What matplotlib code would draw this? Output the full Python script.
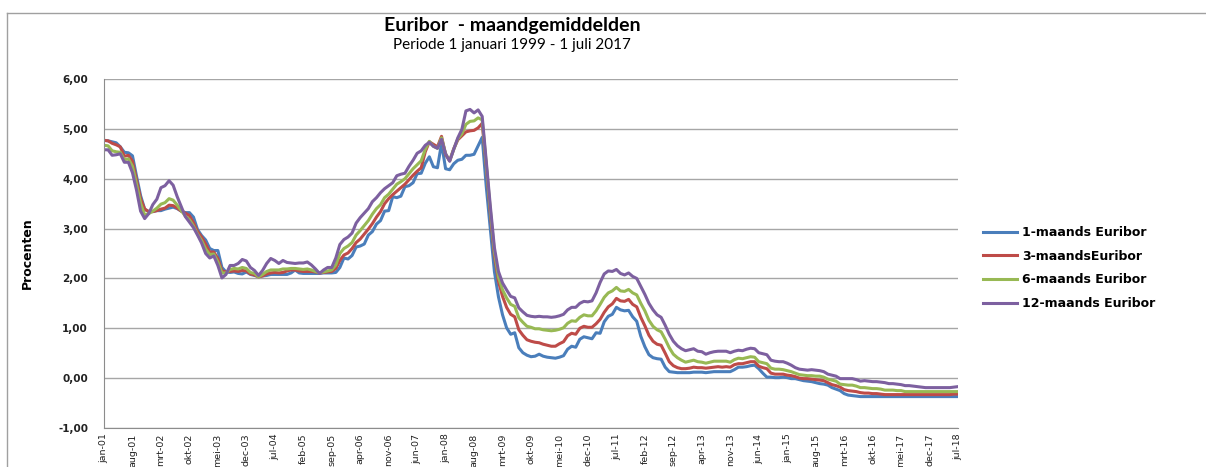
import matplotlib

matplotlib.use("Agg")
import matplotlib.pyplot as plt  # noqa: E402
from matplotlib.lines import Line2D  # noqa: E402

# Maandgemiddelden jan-2001 t/m jul-2018
euribor_1m = [
    4.77, 4.76, 4.74, 4.72, 4.64, 4.53, 4.52, 4.46, 4.05, 3.66, 3.39, 3.34,
    3.34, 3.36, 3.36, 3.39, 3.41, 3.43, 3.40, 3.35, 3.32, 3.32, 3.23, 2.98,
    2.86, 2.77, 2.60, 2.56, 2.56, 2.22, 2.13, 2.12, 2.13, 2.10, 2.09, 2.13,
    2.08, 2.06, 2.04, 2.05, 2.06, 2.08, 2.08, 2.08, 2.08, 2.08, 2.11, 2.17,
    2.11, 2.10, 2.10, 2.10, 2.10, 2.10, 2.11, 2.11, 2.11, 2.12, 2.22, 2.41,
    2.39, 2.46, 2.63, 2.65, 2.69, 2.87, 2.94, 3.09, 3.16, 3.35, 3.36, 3.64,
    3.62, 3.65, 3.84, 3.86, 3.92, 4.10, 4.11, 4.31, 4.44, 4.24, 4.22, 4.71,
    4.20, 4.18, 4.30, 4.37, 4.39, 4.47, 4.47, 4.49, 4.66, 4.83, 3.84, 2.99,
    2.14, 1.63, 1.27, 1.01, 0.88, 0.91, 0.61, 0.51, 0.46, 0.43, 0.44, 0.48,
    0.44, 0.42, 0.41, 0.40, 0.42, 0.45, 0.58, 0.64, 0.62, 0.78, 0.83, 0.81,
    0.79, 0.91, 0.90, 1.13, 1.24, 1.28, 1.42, 1.37, 1.35, 1.36, 1.23, 1.14,
    0.84, 0.63, 0.47, 0.41, 0.39, 0.38, 0.22, 0.13, 0.12, 0.11, 0.11, 0.11,
    0.11, 0.12, 0.12, 0.12, 0.11, 0.12, 0.13, 0.13, 0.13, 0.13, 0.13, 0.17,
    0.22, 0.22, 0.23, 0.25, 0.26, 0.19, 0.10, 0.02, 0.02, 0.01, 0.01, 0.02,
    0.01, -0.01, -0.01, -0.03, -0.05, -0.06, -0.07, -0.09, -0.11, -0.12, -0.14, -0.19,
    -0.22, -0.25, -0.31, -0.34, -0.35, -0.36, -0.37, -0.37, -0.37, -0.37, -0.37, -0.37,
    -0.37, -0.37, -0.37, -0.37, -0.37, -0.37, -0.37, -0.37, -0.37, -0.37, -0.37, -0.37,
    -0.37, -0.37, -0.37, -0.37, -0.37, -0.37, -0.37,
]
euribor_3m = [
    4.77, 4.76, 4.71, 4.68, 4.64, 4.45, 4.47, 4.35, 3.98, 3.60, 3.39, 3.34,
    3.34, 3.36, 3.39, 3.41, 3.47, 3.46, 3.41, 3.35, 3.31, 3.26, 3.12, 2.94,
    2.83, 2.69, 2.53, 2.53, 2.40, 2.15, 2.13, 2.14, 2.15, 2.14, 2.16, 2.15,
    2.09, 2.07, 2.03, 2.05, 2.09, 2.11, 2.12, 2.11, 2.12, 2.15, 2.17, 2.17,
    2.15, 2.14, 2.14, 2.14, 2.13, 2.11, 2.12, 2.13, 2.14, 2.20, 2.36, 2.47,
    2.51, 2.60, 2.72, 2.79, 2.89, 2.99, 3.10, 3.23, 3.34, 3.50, 3.60, 3.68,
    3.75, 3.82, 3.89, 3.98, 4.07, 4.15, 4.22, 4.54, 4.74, 4.69, 4.64, 4.85,
    4.48, 4.36, 4.60, 4.78, 4.86, 4.94, 4.96, 4.97, 5.02, 5.11, 4.24, 3.29,
    2.46, 1.94, 1.64, 1.42, 1.28, 1.23, 0.97, 0.86, 0.77, 0.74, 0.72, 0.71,
    0.68, 0.66, 0.64, 0.64, 0.69, 0.73, 0.85, 0.90, 0.88, 1.00, 1.04, 1.02,
    1.02, 1.09, 1.18, 1.32, 1.43, 1.49, 1.60, 1.55, 1.54, 1.58, 1.48, 1.43,
    1.22, 1.05, 0.86, 0.74, 0.68, 0.66, 0.50, 0.33, 0.25, 0.21, 0.19, 0.19,
    0.20, 0.22, 0.21, 0.21, 0.20, 0.21, 0.22, 0.23, 0.22, 0.23, 0.22, 0.27,
    0.29, 0.29, 0.31, 0.33, 0.33, 0.24, 0.21, 0.19, 0.10, 0.08, 0.08, 0.08,
    0.06, 0.05, 0.03, 0.00, -0.01, -0.01, -0.02, -0.03, -0.04, -0.05, -0.09, -0.13,
    -0.15, -0.18, -0.23, -0.25, -0.26, -0.27, -0.29, -0.30, -0.30, -0.31, -0.31, -0.32,
    -0.33, -0.33, -0.33, -0.33, -0.33, -0.33, -0.33, -0.33, -0.33, -0.33, -0.33, -0.33,
    -0.33, -0.33, -0.33, -0.33, -0.33, -0.32, -0.32,
]
euribor_6m = [
    4.67, 4.66, 4.56, 4.54, 4.53, 4.38, 4.40, 4.25, 3.89, 3.51, 3.27, 3.30,
    3.35, 3.41, 3.49, 3.52, 3.60, 3.57, 3.47, 3.36, 3.25, 3.18, 3.05, 2.89,
    2.76, 2.59, 2.48, 2.49, 2.33, 2.11, 2.11, 2.18, 2.20, 2.19, 2.22, 2.20,
    2.12, 2.10, 2.03, 2.08, 2.14, 2.17, 2.17, 2.17, 2.19, 2.19, 2.20, 2.20,
    2.19, 2.18, 2.19, 2.17, 2.14, 2.11, 2.13, 2.15, 2.17, 2.27, 2.50, 2.60,
    2.65, 2.72, 2.87, 2.96, 3.06, 3.16, 3.29, 3.40, 3.48, 3.62, 3.69, 3.79,
    3.89, 3.94, 4.00, 4.10, 4.20, 4.28, 4.36, 4.59, 4.75, 4.65, 4.61, 4.82,
    4.50, 4.36, 4.59, 4.80, 4.90, 5.09, 5.15, 5.16, 5.22, 5.18, 4.29, 3.37,
    2.54, 2.03, 1.77, 1.61, 1.48, 1.44, 1.21, 1.12, 1.04, 1.02, 0.99, 0.99,
    0.97, 0.96, 0.95, 0.96, 0.98, 1.01, 1.10, 1.15, 1.14, 1.22, 1.27, 1.25,
    1.25, 1.35, 1.48, 1.62, 1.71, 1.75, 1.82, 1.75, 1.74, 1.78, 1.71, 1.67,
    1.50, 1.35, 1.16, 1.04, 0.97, 0.93, 0.78, 0.61, 0.48, 0.41, 0.36, 0.32,
    0.34, 0.36, 0.33, 0.32, 0.30, 0.32, 0.34, 0.34, 0.34, 0.34, 0.32, 0.37,
    0.40, 0.39, 0.41, 0.43, 0.42, 0.33, 0.31, 0.29, 0.20, 0.18, 0.18, 0.17,
    0.15, 0.13, 0.10, 0.07, 0.06, 0.05, 0.05, 0.04, 0.04, 0.02, -0.02, -0.04,
    -0.06, -0.12, -0.13, -0.14, -0.14, -0.16, -0.19, -0.19, -0.20, -0.21, -0.21, -0.22,
    -0.24, -0.24, -0.24, -0.25, -0.25, -0.27, -0.27, -0.27, -0.27, -0.27, -0.27, -0.27,
    -0.27, -0.27, -0.27, -0.27, -0.27, -0.27, -0.27,
]
euribor_12m = [
    4.58, 4.58, 4.47, 4.48, 4.50, 4.33, 4.33, 4.12, 3.77, 3.35, 3.20, 3.30,
    3.48, 3.59, 3.82, 3.86, 3.96, 3.87, 3.64, 3.44, 3.24, 3.13, 3.02, 2.87,
    2.71, 2.50, 2.41, 2.45, 2.26, 2.01, 2.08, 2.26, 2.26, 2.30, 2.38, 2.35,
    2.22, 2.16, 2.06, 2.16, 2.30, 2.40, 2.36, 2.30, 2.36, 2.32, 2.31, 2.30,
    2.31, 2.31, 2.33, 2.27, 2.19, 2.10, 2.17, 2.22, 2.22, 2.41, 2.68, 2.78,
    2.83, 2.91, 3.11, 3.22, 3.31, 3.40, 3.54, 3.62, 3.72, 3.80, 3.86, 3.92,
    4.06, 4.09, 4.11, 4.25, 4.37, 4.51, 4.56, 4.67, 4.73, 4.65, 4.61, 4.79,
    4.50, 4.35, 4.59, 4.82, 4.99, 5.36, 5.39, 5.32, 5.38, 5.25, 4.35, 3.45,
    2.62, 2.14, 1.91, 1.77, 1.64, 1.61, 1.41, 1.33, 1.26, 1.24, 1.23, 1.24,
    1.23, 1.23, 1.22, 1.23, 1.25, 1.28, 1.37, 1.42, 1.42, 1.50, 1.54, 1.53,
    1.55, 1.71, 1.92, 2.09, 2.15, 2.14, 2.18, 2.10, 2.07, 2.11, 2.04, 2.00,
    1.84, 1.68, 1.50, 1.37, 1.27, 1.22, 1.06, 0.88, 0.74, 0.65, 0.59, 0.55,
    0.57, 0.59, 0.54, 0.53, 0.48, 0.51, 0.53, 0.54, 0.54, 0.54, 0.51, 0.54,
    0.56, 0.55, 0.58, 0.60, 0.59, 0.51, 0.49, 0.47, 0.36, 0.34, 0.33, 0.33,
    0.30, 0.26, 0.21, 0.18, 0.17, 0.16, 0.17, 0.16, 0.15, 0.13, 0.08, 0.06,
    0.04, -0.01, -0.01, -0.01, -0.01, -0.03, -0.06, -0.05, -0.06, -0.07, -0.07, -0.08,
    -0.09, -0.11, -0.11, -0.12, -0.13, -0.15, -0.15, -0.16, -0.17, -0.18, -0.19, -0.19,
    -0.19, -0.19, -0.19, -0.19, -0.19, -0.18, -0.17,
]

month_names = ["jan", "feb", "mrt", "apr", "mei", "jun",
               "jul", "aug", "sep", "okt", "nov", "dec"]
months = [f"{month_names[m]}-{y % 100:02d}"
          for y in range(2001, 2019) for m in range(12)][:len(euribor_1m)]

series = [
    ("1-maands Euribor", euribor_1m, "#4a7ebb"),
    ("3-maandsEuribor", euribor_3m, "#be4b48"),
    ("6-maands Euribor", euribor_6m, "#98b954"),
    ("12-maands Euribor", euribor_12m, "#7d60a0"),
]
yticks = [-1, 0, 1, 2, 3, 4, 5, 6]

narrow = ["Liberation Sans Narrow", "DejaVu Sans"]
heading = ["Lato", "DejaVu Sans"]

fig = plt.figure(figsize=(12.06, 4.67), dpi=100)
ax = fig.add_axes([104 / 1206, 39 / 467, 854 / 1206, 349 / 467])

x = list(range(len(months)))
for name, vals, color in series:
    ax.plot(x, vals, color=color, linewidth=2.2, label=name,
            solid_joinstyle="round")

ax.set_xlim(0, len(months) - 1)
ax.set_ylim(-1, 6)
ax.set_yticks(yticks)
ax.set_yticklabels([f"{v:.2f}".replace(".", ",") for v in yticks],
                   fontsize=7.5, fontweight="bold", color="#222222")
ax.set_xticks(x[::7])
ax.set_xticklabels(months[::7], rotation=90, fontsize=6.8,
                   family=narrow, color="#222222")
ax.tick_params(axis="y", length=0, pad=11.5)
ax.tick_params(axis="x", length=0, pad=4)

ax.grid(axis="y", color="#a6a6a6", linewidth=1)
ax.set_axisbelow(True)
for side in ("top", "right"):
    ax.spines[side].set_visible(False)
ax.spines["left"].set_color("#8c8c8c")
ax.spines["bottom"].set_color("#8c8c8c")

ax.set_ylabel("Procenten", family=narrow, fontsize=9, fontweight="bold")
ax.yaxis.set_label_coords(-(104 - 34) / 854, 0.5)

fig.text(512 / 1206, 1 - 26 / 467, "Euribor  - maandgemiddelden",
         ha="center", va="center", fontsize=14, fontweight="bold",
         family=heading)
fig.text(512 / 1206, 1 - 45 / 467, "Periode 1 januari 1999 - 1 juli 2017",
         ha="center", va="center", fontsize=11, family=heading)

handles = [Line2D([], [], color=c, linewidth=2.2) for _, _, c in series]
fig.legend(handles, [n for n, _, _ in series], loc="center left",
           bbox_to_anchor=(972 / 1206, 1 - 268 / 467), frameon=False,
           prop={"size": 9, "weight": "bold"}, handlelength=2.7,
           handletextpad=0.4, labelspacing=0.85)

# Kader rond de grafiek (boven en links)
fig.add_artist(Line2D([7 / 1206, 1], [1 - 13 / 467, 1 - 13 / 467],
                      color="#a0a0a0", linewidth=1))
fig.add_artist(Line2D([7 / 1206, 7 / 1206], [0, 1 - 13 / 467],
                      color="#a0a0a0", linewidth=1))

fig.savefig("out.png", dpi=100)
plt.close(fig)
